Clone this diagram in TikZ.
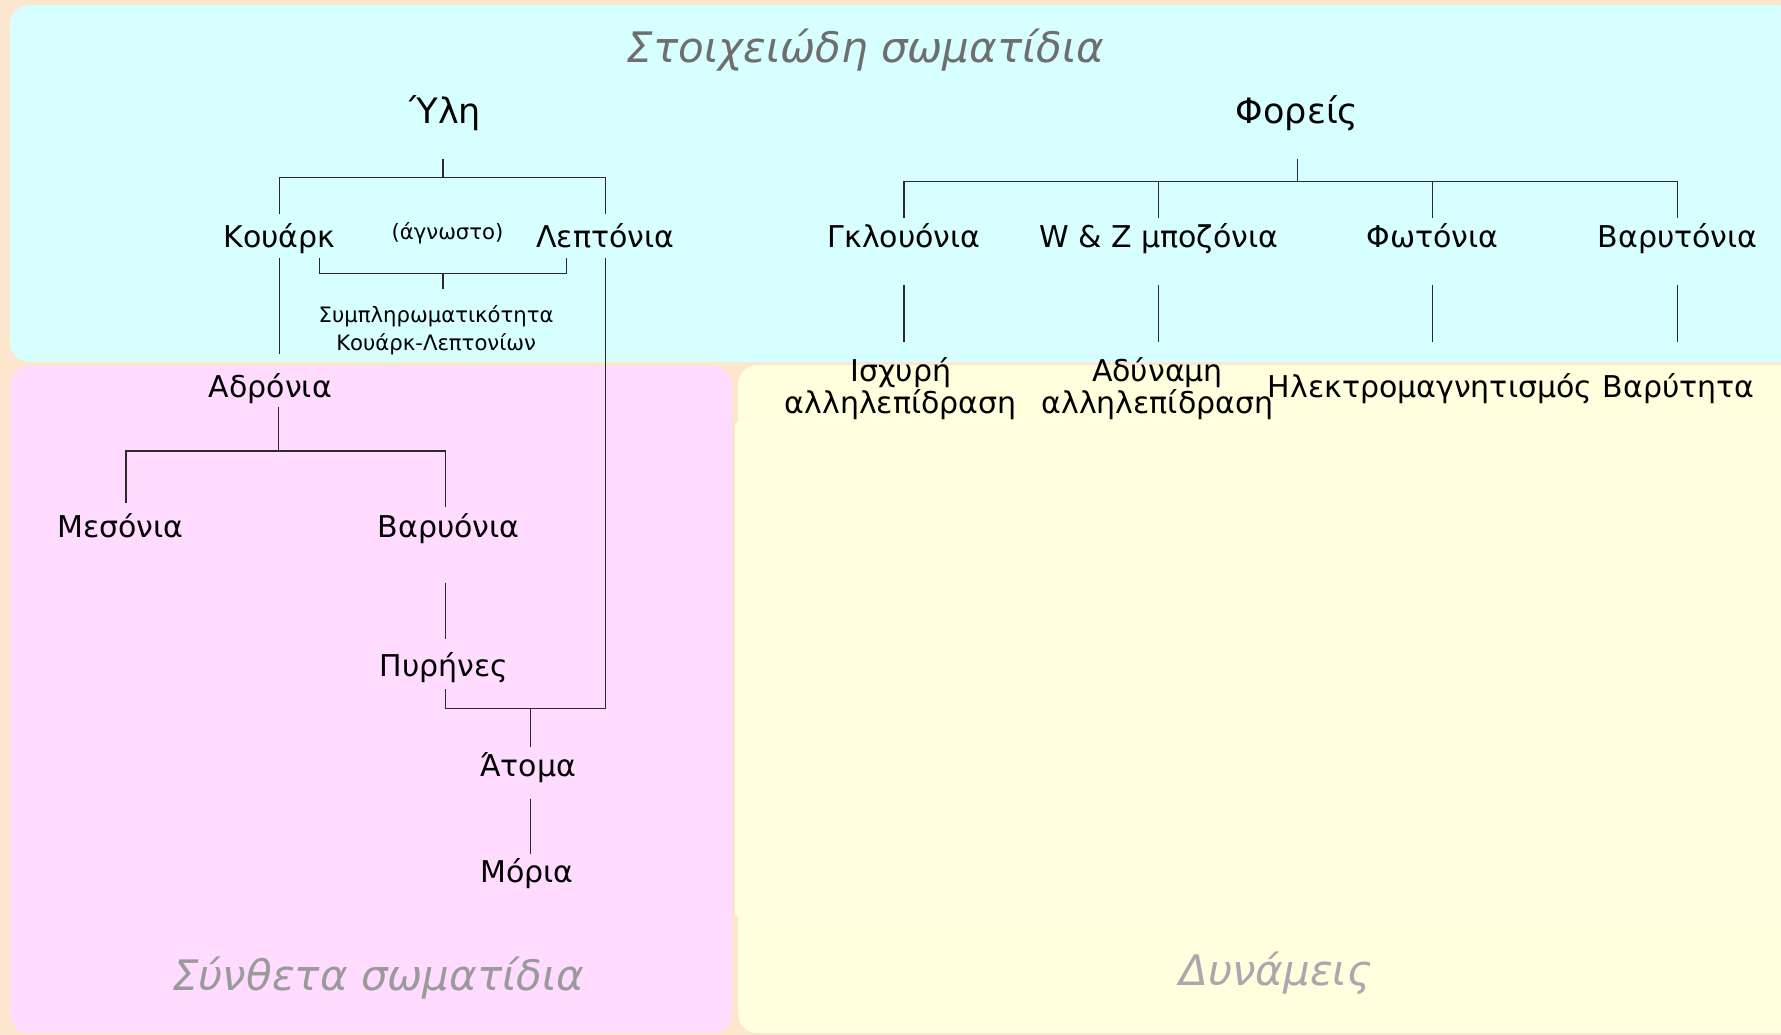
\documentclass[tikz,border=0pt]{standalone}
\usepackage{fontspec}
\setmainfont{DejaVu Sans}
\definecolor{bgpeach}{HTML}{FCE6CE}
\definecolor{cyanbox}{HTML}{D8FFFF}
\definecolor{pinkbox}{HTML}{FFDCFF}
\definecolor{yellowbox}{HTML}{FFFFDD}
\definecolor{yellowin}{HTML}{FEFEE1}
\definecolor{titlegray}{HTML}{6E6E6E}
\definecolor{compgray}{HTML}{9A9A9A}
\definecolor{forcegray}{HTML}{A8A8AE}
\definecolor{linecol}{HTML}{2A2A2A}
\begin{document}
\begin{tikzpicture}[x=0.5679pt,y=-0.5679pt,
  lbl/.style={inner sep=0pt, anchor=base, font=\fontsize{15}{13.6}\selectfont},
  biglbl/.style={inner sep=0pt, anchor=base, font=\fontsize{17.5}{20}\selectfont},
  lbltwo/.style={inner sep=0pt, anchor=base, align=center, font=\fontsize{15}{13.6}\selectfont},
  small/.style={inner sep=0pt, anchor=base, align=center, font=\fontsize{10.6}{14.2}\selectfont},
  ttl/.style={inner sep=0pt, anchor=base, font=\fontsize{21}{24}\selectfont\itshape},
  link/.style={draw=linecol, line width=0.65pt},
  region/.style={rounded corners=9.7pt}]
\useasboundingbox (0,0) rectangle (1568,911);
\clip (0,0) rectangle (1568,911);
\fill[bgpeach] (0,0) rectangle (1568,911);
% regions
\fill[cyanbox, region] (8.8,4.4) rectangle (1620,318.7);
\fill[pinkbox, region] (8.8,322.2) rectangle (644.5,909.5);
\fill[yellowbox, region] (649.8,321.4) rectangle (1620,909.5);
\fill[yellowin] (647.1,372.4) rectangle (1620,806.5);
% titles
\node[ttl, text=titlegray] (stoix) at (762,55) {Στοιχειώδη σωματίδια};
\node[ttl, text=compgray] (synth) at (333,872) {Σύνθετα σωματίδια};
\node[ttl, text=forcegray] (dyn) at (1123,868) {Δυνάμεις};
% matter
\node[biglbl] (yli) at (392,109) {Ύλη};
\node[lbl] (kouark) at (246,217.6) {Κουάρκ};
\node[small] (agnosto) at (394,211) {(άγνωστο)};
\node[lbl] (lept) at (533,217.6) {Λεπτόνια};
\node[small] (symp) at (384,309) {Συμπληρωματικότητα\\Κουάρκ-Λεπτονίων};
\node[lbl] (adr) at (238,349.6) {Αδρόνια};
\node[lbl] (mes) at (106,473.6) {Μεσόνια};
\node[lbl] (bar) at (395,473.6) {Βαρυόνια};
\node[lbl] (pyr) at (391,595.6) {Πυρήνες};
\node[lbl] (atoma) at (465,683.6) {Άτομα};
\node[lbl] (moria) at (464,776.6) {Μόρια};
% carriers
\node[biglbl] (foreis) at (1142,109) {Φορείς};
\node[lbl] (gluon) at (796,217.6) {Γκλουόνια};
\node[lbl] (wz) at (1020,217.6) {W \& Z μποζόνια};
\node[lbl] (phot) at (1261,217.6) {Φωτόνια};
\node[lbl] (grav) at (1477,217.6) {Βαρυτόνια};
\node[lbltwo] (strong) at (793,364) {Ισχυρή\\αλληλεπίδραση};
\node[lbltwo] (weak) at (1019,364) {Αδύναμη\\αλληλεπίδραση};
\node[lbl] (em) at (1259,349.6) {Ηλεκτρομαγνητισμός};
\node[lbl] (gravity) at (1478,349.6) {Βαρύτητα};
% junctions
\coordinate (yliJ) at (390,156);
\coordinate (compJ) at (390,241);
\coordinate (brL) at (281,227);
\coordinate (brR) at (499,227);
\coordinate (adrJ) at (245,397);
\coordinate (mesT) at (111,443);
\coordinate (barT) at (392,446);
\coordinate (atJ) at (467,624);
\coordinate (forJ) at (1142,160);
% matter connectors
\draw[link] (yliJ |- 0,140) -- (yliJ);
\draw[link] (kouark |- 0,188) -- (kouark |- yliJ) -- (lept |- yliJ) -- (lept |- 0,188);
\draw[link] (brL) |- (compJ) -| (brR);
\draw[link] (compJ) -- (compJ |- 0,254);
\draw[link] (kouark |- 0,227) -- (kouark |- 0,312);
\draw[link] (adrJ |- 0,358) -- (adrJ);
\draw[link] (mesT) |- (adrJ) -| (barT);
\draw[link] (barT |- 0,513) -- (barT |- 0,563);
\draw[link] (lept |- 0,227) -- (lept |- atJ) -- (barT |- atJ) -- (barT |- 0,607);
\draw[link] (atJ) -- (atJ |- 0,658);
\draw[link] (atJ |- 0,703) -- (atJ |- 0,752);
% carrier connectors
\draw[link] (forJ |- 0,140) -- (forJ);
\draw[link] (gluon |- 0,192) -- (gluon |- forJ) -- (grav |- forJ) -- (grav |- 0,192);
\draw[link] (wz |- forJ) -- (wz |- 0,192);
\draw[link] (phot |- forJ) -- (phot |- 0,192);
\draw[link] (gluon |- 0,251) -- (gluon |- 0,301);
\draw[link] (wz |- 0,251) -- (wz |- 0,301);
\draw[link] (phot |- 0,251) -- (phot |- 0,301);
\draw[link] (grav |- 0,251) -- (grav |- 0,301);
\end{tikzpicture}
\end{document}
